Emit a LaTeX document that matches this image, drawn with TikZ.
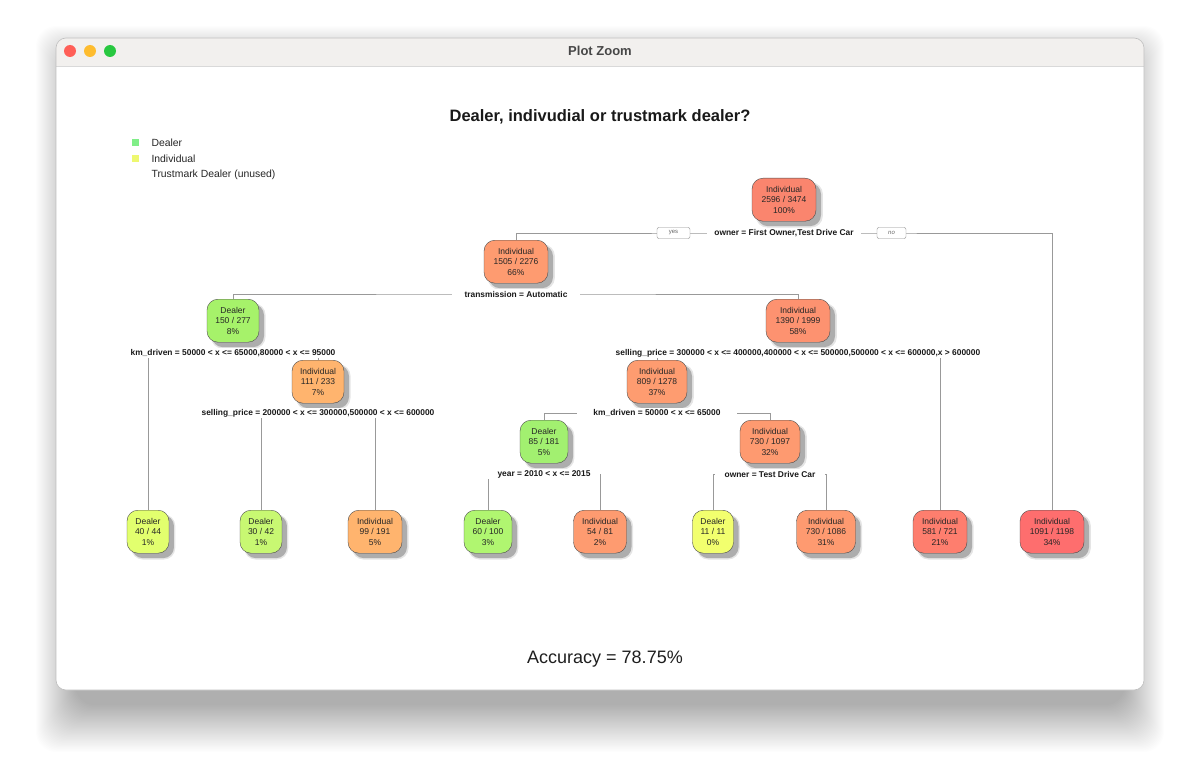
\documentclass[tikz,border=0pt]{standalone}
\usepackage{fontspec}
\setmainfont{Liberation Sans}
\usetikzlibrary{shadows}
\definecolor{titlebar}{HTML}{F2F0EE}
\definecolor{tlred}{HTML}{FF5F57}
\definecolor{tlyellow}{HTML}{FEBC2E}
\definecolor{tlgreen}{HTML}{28C840}
\definecolor{cRoot}{HTML}{FA856E}
\definecolor{cNa}{HTML}{FE9B70}
\definecolor{cNb}{HTML}{FD9270}
\definecolor{cNc}{HTML}{FE9C70}
\definecolor{cNd}{HTML}{FE9A70}
\definecolor{cLo}{HTML}{FFB46E}
\definecolor{cLr}{HTML}{FE7E6E}
\definecolor{cLrr}{HTML}{FE6E6E}
\definecolor{cGa}{HTML}{A6F26A}
\definecolor{cGb}{HTML}{A2F070}
\definecolor{cGc}{HTML}{B0F670}
\definecolor{cGd}{HTML}{C8F872}
\definecolor{cGe}{HTML}{E2FF6E}
\definecolor{cGf}{HTML}{F2FF6E}
\definecolor{legG}{HTML}{80EE88}
\definecolor{legY}{HTML}{EEF870}
\definecolor{edgecol}{HTML}{999999}
\tikzset{
  tn/.style={anchor=north, draw=black!70, line width=0.4pt, rounded corners=11pt,
    inner xsep=8pt, minimum height=43pt, align=center,
    font=\fontsize{8.5}{10.5}\selectfont, text=black!85,
    drop shadow={shadow xshift=5pt, shadow yshift=-5pt, shadow scale=1.05, fill=black, opacity=0.1},
    drop shadow={shadow xshift=5pt, shadow yshift=-5pt, fill=black!32, opacity=1}},
  sl/.style={fill=white, inner xsep=10pt, inner ysep=1.5pt,
    font=\fontsize{8.4}{10}\selectfont\bfseries, text=black!90},
  yn/.style={draw=black!45, fill=white, rounded corners=2pt, minimum width=33pt,
    minimum height=11pt, inner sep=0pt, font=\fontsize{6}{6}\selectfont, text=black!60},
  edge/.style={draw=edgecol, line width=0.6pt},
  legtext/.style={anchor=west, font=\fontsize{10.4}{12}\selectfont, text=black!85}
}
\begin{document}
\begin{tikzpicture}[x=1pt,y=-1pt]
\useasboundingbox (0,0) rectangle (1200,765);
\fill[white] (0,0) rectangle (1200,765);
% window shadow
\foreach \i in {0,...,39} {
  \fill[black, opacity=0.0095, rounded corners=20pt]
    (36+\i, 26+\i) rectangle (1164-\i, 752-1.2*\i);
}
% window
\fill[white, rounded corners=10pt] (56,38) rectangle (1144,690);
\begin{scope}
  \clip[rounded corners=10pt] (56,38) rectangle (1144,690);
  \fill[titlebar] (56,38) rectangle (1144,66);
\end{scope}
\draw[black!15, line width=0.6pt] (56,66) -- (1144,66);
\draw[black!25, line width=0.6pt, rounded corners=10pt] (56,38) rectangle (1144,690);
\fill[tlred] (70,51) circle (6);
\fill[tlyellow] (90,51) circle (6);
\fill[tlgreen] (110,51) circle (6);
\node[font=\fontsize{13}{15}\selectfont\bfseries, text=black!72] (wtitle) at (600,51) {Plot Zoom};

% title and legend
\node[font=\fontsize{16.5}{19}\selectfont\bfseries, text=black!90] (title) at (600,117) {Dealer, indivudial or trustmark dealer?};
\fill[legG] (132,139) rectangle (139,146);
\fill[legY] (132,155) rectangle (139,162);
\node[legtext] (lg1) at (148,143) {Dealer};
\node[legtext] (lg2) at (148,159) {Individual};
\node[legtext] (lg3) at (148,175) {Trustmark Dealer (unused)};

% split label positions
\coordinate (s1) at (784,233);
\coordinate (s2) at (516,294);
\coordinate (s4) at (233,353);
\coordinate (s3) at (798,353);
\coordinate (s9) at (318,413);
\coordinate (s6) at (657,413);
\coordinate (s12) at (544,474);
\coordinate (s13) at (770,474);

% inner nodes
\node[tn, fill=cRoot, minimum width=64pt] (n1) at (784,178) {Individual\\2596 / 3474\\100\%};
\node[tn, fill=cNa, minimum width=64pt] (n2) at (516,240) {Individual\\1505 / 2276\\66\%};
\node[tn, fill=cGa, minimum width=52pt] (n4) at (233,299) {Dealer\\150 / 277\\8\%};
\node[tn, fill=cNb, minimum width=64pt] (n3) at (798,299) {Individual\\1390 / 1999\\58\%};
\node[tn, fill=cLo, minimum width=52pt] (n9) at (318,360) {Individual\\111 / 233\\7\%};
\node[tn, fill=cNc, minimum width=60pt] (n6) at (657,360) {Individual\\809 / 1278\\37\%};
\node[tn, fill=cGb, minimum width=48pt] (n12) at (544,420) {Dealer\\85 / 181\\5\%};
\node[tn, fill=cNd, minimum width=60pt] (n13) at (770,420) {Individual\\730 / 1097\\32\%};

% leaves
\node[tn, fill=cGe, minimum width=40pt] (l1) at (148,510) {Dealer\\40 / 44\\1\%};
\node[tn, fill=cGd, minimum width=41pt] (l2) at (261,510) {Dealer\\30 / 42\\1\%};
\node[tn, fill=cLo, minimum width=54pt] (l3) at (375,510) {Individual\\99 / 191\\5\%};
\node[tn, fill=cGc, minimum width=48pt] (l4) at (488,510) {Dealer\\60 / 100\\3\%};
\node[tn, fill=cNa, minimum width=53pt] (l5) at (600,510) {Individual\\54 / 81\\2\%};
\node[tn, fill=cGf, minimum width=41pt] (l6) at (713,510) {Dealer\\11 / 11\\0\%};
\node[tn, fill=cNd, minimum width=59pt] (l7) at (826,510) {Individual\\730 / 1086\\31\%};
\node[tn, fill=cLr, minimum width=54pt] (l8) at (940,510) {Individual\\581 / 721\\21\%};
\node[tn, fill=cLrr, minimum width=64pt] (l9) at (1052,510) {Individual\\1091 / 1198\\34\%};

% connectors
\draw[edge] (n2.north) |- (s1) -| (l9.north);
\draw[edge] (n4.north) |- (s2) -| (n3.north);
\draw[edge] (l1.north) |- (s4) -| (n9.north);
\draw[edge] (l2.north) |- (s9) -| (l3.north);
\draw[edge] (n6.north) |- (s3) -| (l8.north);
\draw[edge] (n12.north) |- (s6) -| (n13.north);
\draw[edge] (l4.north) |- (s12) -| (l5.north);
\draw[edge] (l6.north) |- (s13) -| (l7.north);

% split labels
\node[sl, inner xsep=7pt] (t1) at (s1) {owner = First Owner,Test Drive Car};
\node[sl, inner xsep=13pt] (t2) at (s2) {transmission = Automatic};
\node[sl] (t4) at (s4) {km\_driven = 50000 < x <= 65000,80000 < x <= 95000};
\node[sl] (t3) at (s3) {selling\_price = 300000 < x <= 400000,400000 < x <= 500000,500000 < x <= 600000,x > 600000};
\node[sl] (t9) at (s9) {selling\_price = 200000 < x <= 300000,500000 < x <= 600000};
\node[sl, inner xsep=16pt] (t6) at (s6) {km\_driven = 50000 < x <= 65000};
\node[sl] (t12) at (s12) {year = 2010 < x <= 2015};
\node[sl] (t13) at (s13) {owner = Test Drive Car};
\node[yn] (yes) at (673.5,233) {yes};
\node[yn, minimum width=29pt] (no) at (891.5,233) {\itshape no};

% accuracy
\node[font=\fontsize{18}{21}\selectfont, text=black!88] (acc) at (605,659) {Accuracy = 78.75\%};
\end{tikzpicture}
\end{document}
